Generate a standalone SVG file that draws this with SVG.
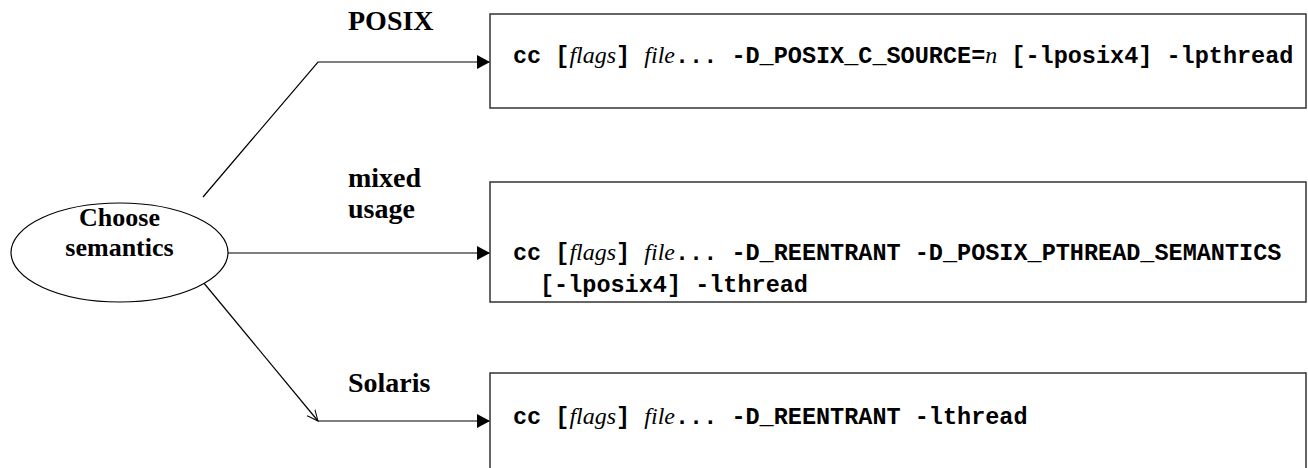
<svg xmlns="http://www.w3.org/2000/svg" width="1308" height="468" viewBox="0 0 1308 468">
  <defs>
    <marker id="solid" viewBox="0 0 13 14" refX="13" refY="7" markerWidth="13" markerHeight="14" markerUnits="userSpaceOnUse" orient="auto">
      <path d="M0,0 L13,7 L0,14 Z" fill="#000"/>
    </marker>
    <marker id="open" viewBox="0 0 12 12" refX="11" refY="6" markerWidth="12" markerHeight="12" markerUnits="userSpaceOnUse" orient="auto">
      <path d="M0,1 L11,6 L0,11" fill="none" stroke="#000" stroke-width="1"/>
    </marker>
    <style>
      .edge { fill: none; stroke: #000; stroke-width: 1.2; }
      .box { fill: #fff; stroke: #333; stroke-width: 1.5; }
      .oval { fill: #fff; stroke: #000; stroke-width: 1.2; }
      .label { font-family: "Liberation Serif", "Times New Roman", serif; font-weight: bold; font-size: 28px; fill: #000; }
      .oval-text { font-family: "Liberation Serif", "Times New Roman", serif; font-weight: bold; font-size: 26px; fill: #000; text-anchor: middle; }
      .cmd { font-family: "Liberation Mono", "Courier New", monospace; font-weight: bold; font-size: 23.5px; fill: #000; white-space: pre; }
      .arg { font-family: "Liberation Serif", "Times New Roman", serif; font-style: italic; font-weight: normal; font-size: 24px; }
    </style>
  </defs>

  <!-- connectors -->
  <g id="connectors">
    <polyline class="edge" points="203,197 318,62 490,62" marker-end="url(#solid)"/>
    <line class="edge" x1="228" y1="253" x2="490" y2="253" marker-end="url(#solid)"/>
    <line class="edge" x1="203" y1="282" x2="318" y2="421" marker-end="url(#open)"/>
    <line class="edge" x1="318" y1="421" x2="490" y2="421" marker-end="url(#solid)"/>
    <text class="label" x="348" y="30">POSIX</text>
    <text class="label" x="348" y="187">mixed</text>
    <text class="label" x="348" y="218">usage</text>
    <text class="label" x="348" y="392">Solaris</text>
  </g>

  <!-- decision node -->
  <g id="choose">
    <ellipse class="oval" cx="119.5" cy="252.5" rx="108.5" ry="49.5"/>
    <text class="oval-text" x="119.5" y="226">Choose</text>
    <text class="oval-text" x="119.5" y="256">semantics</text>
  </g>

  <!-- POSIX build command -->
  <g id="posix">
    <rect class="box" x="490" y="14" width="816" height="94"/>
    <text class="cmd" x="513" y="63">cc [<tspan class="arg">flags</tspan>] <tspan class="arg">file</tspan>... -D_POSIX_C_SOURCE=<tspan class="arg">n</tspan> [-lposix4] -lpthread</text>
  </g>

  <!-- mixed build command -->
  <g id="mixed">
    <rect class="box" x="490" y="182" width="816" height="120"/>
    <text class="cmd" x="513" y="260">cc [<tspan class="arg">flags</tspan>] <tspan class="arg">file</tspan>... -D_REENTRANT -D_POSIX_PTHREAD_SEMANTICS</text>
    <text class="cmd" x="540" y="292">[-lposix4] -lthread</text>
  </g>

  <!-- Solaris build command -->
  <g id="solaris">
    <rect class="box" x="490" y="373" width="816" height="110"/>
    <text class="cmd" x="513" y="424">cc [<tspan class="arg">flags</tspan>] <tspan class="arg">file</tspan>... -D_REENTRANT -lthread</text>
  </g>
</svg>
